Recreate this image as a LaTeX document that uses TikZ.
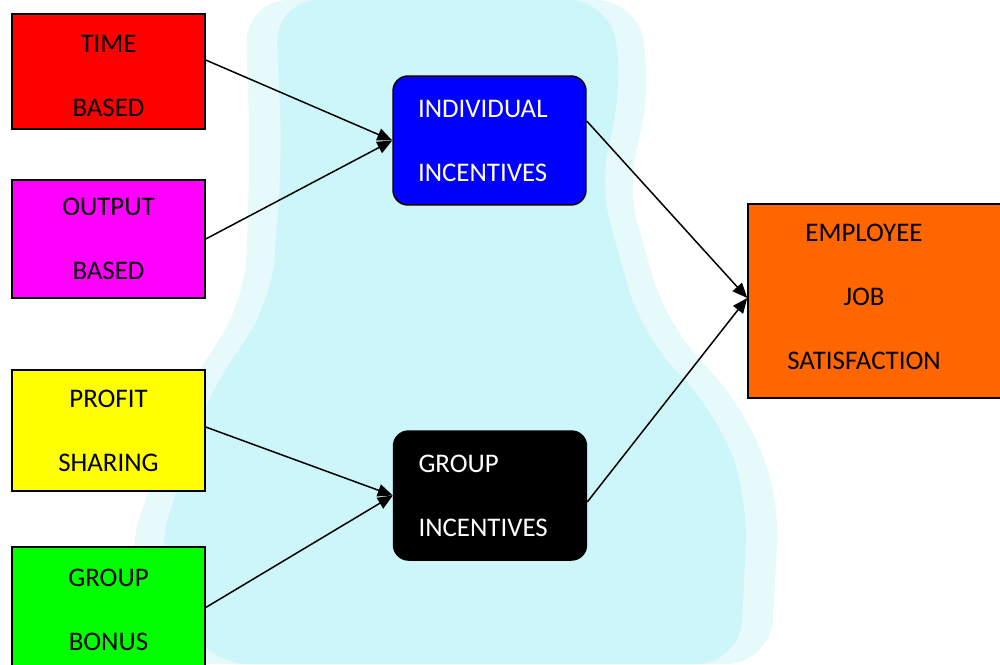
\documentclass[tikz,border=0pt]{standalone}
\usepackage{fontspec}
\setmainfont{Carlito}
\usetikzlibrary{arrows.meta,calc}
\definecolor{cred}{RGB}{255,0,0}
\definecolor{cmag}{RGB}{255,0,255}
\definecolor{cyel}{RGB}{255,255,0}
\definecolor{cgrn}{RGB}{0,255,0}
\definecolor{cblu}{RGB}{0,0,255}
\definecolor{corg}{RGB}{255,102,0}
\definecolor{wmark}{RGB}{204,246,250}
\definecolor{wmarklt}{RGB}{230,250,252}
\newcommand{\lowtxt}[1]{\rule{0pt}{#1}}
\tikzset{
  srcbox/.style={draw=black, line width=0.03cm, minimum width=3.86cm, align=center,
    font=\fontsize{15.3}{36.4}\selectfont, text=black, inner sep=0pt},
  midbox/.style={draw=black, line width=0.03cm, rounded corners=0.3cm, minimum width=3.86cm,
    minimum height=2.58cm, text width=2.86cm, inner xsep=0.5cm, inner ysep=0pt, align=left,
    font=\fontsize{15.3}{36.4}\selectfont, text=white},
  outbox/.style={draw=black, line width=0.03cm, fill=corg, minimum width=5.24cm, minimum height=3.88cm},
  conn/.style={draw=black, line width=0.03cm, -{Triangle[length=0.3cm,width=0.25cm]}},
}
\begin{document}
\begin{tikzpicture}[x=0.02cm,y=-0.02cm]
\useasboundingbox (0,0) rectangle (1000,664);
\fill[white] (0,0) rectangle (1000,664);
% faint watermark
\begin{scope}
\clip (0,0) rectangle (1000,664);
\fill[wmarklt, rounded corners=25] (245,0) -- (640,0) -- (650,110) -- (625,180) -- (665,320) -- (745,410) -- (780,500) -- (770,664) -- (170,664) -- (125,560) -- (180,400) -- (245,300) -- (250,150) -- cycle;
\fill[wmark, rounded corners=25] (275,0) -- (612,0) -- (622,100) -- (598,180) -- (640,330) -- (720,420) -- (748,500) -- (740,664) -- (205,664) -- (155,560) -- (205,400) -- (272,300) -- (282,150) -- cycle;
\end{scope}
% nodes
\node[srcbox, fill=cred, minimum height=2.3cm] (time) at (108.5,71.5) {\lowtxt{14.6pt}TIME\\BASED};
\node[srcbox, fill=cmag, minimum height=2.36cm] (output) at (108.5,239) {OUTPUT\\BASED};
\node[srcbox, fill=cyel, minimum height=2.42cm] (profit) at (108.5,430.5) {PROFIT\\SHARING};
\node[srcbox, fill=cgrn, minimum height=2.42cm] (bonus) at (108.5,607.5) {\lowtxt{12.4pt}GROUP\\BONUS};
\node[midbox, fill=cblu] (indiv) at (489.5,140.5) {INDIVIDUAL\\INCENTIVES};
\node[midbox, fill=black] (group) at (490,495.5) {GROUP\\INCENTIVES};
\node[outbox] (emp) at (879,301) {};
\node[align=center, font=\fontsize{15.3}{36.4}\selectfont, text=black, inner sep=0pt] (emptext) at (864,297) {EMPLOYEE\\JOB\\SATISFACTION};
% connectors
\draw[conn] ([yshift=0.23cm]time.east) -- (indiv.west);
\draw[conn] (output.east) -- (indiv.west);
\draw[conn] ([yshift=0.07cm]profit.east) -- (group.west);
\draw[conn] (bonus.east) -- (group.west);
\draw[conn] ([yshift=0.39cm]indiv.east) -- ([yshift=0.06cm]emp.west);
\draw[conn] ([yshift=-0.13cm]group.east) -- ([yshift=0.06cm]emp.west);
\end{tikzpicture}
\end{document}
